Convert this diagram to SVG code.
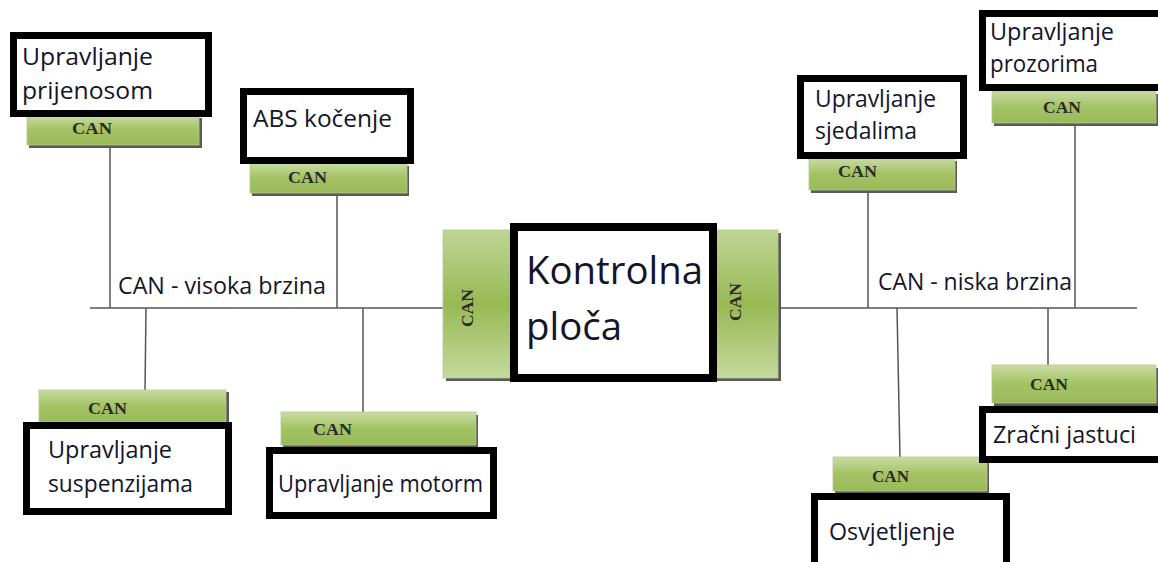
<svg xmlns="http://www.w3.org/2000/svg" width="1158" height="562" viewBox="0 0 1158 562">
<defs>
<linearGradient id="gh" x1="0" y1="0" x2="0" y2="1">
<stop offset="0" stop-color="#c9dca3"/>
<stop offset="0.5" stop-color="#a4c264"/>
<stop offset="1" stop-color="#9aba5a"/>
</linearGradient>
<linearGradient id="gv" x1="0" y1="0" x2="0" y2="1">
<stop offset="0" stop-color="#bfd595"/>
<stop offset="0.5" stop-color="#98b954"/>
<stop offset="1" stop-color="#c5d99d"/>
</linearGradient>
</defs>
<style>
.bar{fill:url(#gh);stroke:#b5cc8a;stroke-width:0.8}
.vbar{fill:url(#gv);stroke:#b5cc8a;stroke-width:0.8}
.sh{fill:#5a5a5a}
.box{fill:#fff;stroke:#000;stroke-width:7}
.t{font-family:"Open Sans","Noto Sans",sans-serif;font-size:24px;fill:#14142a}
.can{font-family:"Liberation Serif",serif;font-weight:bold;font-size:16px;fill:#2a2a2a}
.ln{stroke:#555;stroke-width:1.5;fill:none}
</style>
<rect width="1158" height="562" fill="#fff"/>
<g id="connectors">
<line class="ln" x1="90" y1="308" x2="444" y2="308"/>
<line class="ln" x1="777" y1="308" x2="1137" y2="308"/>
<line class="ln" x1="110" y1="146" x2="110" y2="308"/>
<line class="ln" x1="337" y1="194" x2="337" y2="308"/>
<line class="ln" x1="146" y1="308" x2="145" y2="391"/>
<line class="ln" x1="363" y1="308" x2="363" y2="413"/>
<line class="ln" x1="868" y1="192" x2="868" y2="308"/>
<line class="ln" x1="1075" y1="125" x2="1075" y2="308"/>
<line class="ln" x1="897" y1="308" x2="900" y2="458"/>
<line class="ln" x1="1048" y1="308" x2="1048" y2="366"/>
<text class="t" x="118" y="294" textLength="208" lengthAdjust="spacingAndGlyphs">CAN - visoka brzina</text>
<text class="t" x="878" y="290" textLength="194" lengthAdjust="spacingAndGlyphs">CAN - niska brzina</text>
</g>
<g id="kontrolna">
<rect class="sh" x="446" y="233" width="70" height="148"/>
<rect class="vbar" x="443" y="230" width="70" height="148"/>
<text class="can" transform="translate(473,308) rotate(-90)" text-anchor="middle" textLength="38" lengthAdjust="spacingAndGlyphs">CAN</text>
<rect class="sh" x="717" y="233" width="64" height="148"/>
<rect class="vbar" x="714" y="230" width="64" height="148"/>
<text class="can" transform="translate(741,302) rotate(-90)" text-anchor="middle" textLength="38" lengthAdjust="spacingAndGlyphs">CAN</text>
<rect x="514" y="227" width="199" height="151" fill="#fff" stroke="#000" stroke-width="8"/>
<text class="t" x="526" y="284" style="font-size:38px" textLength="177" lengthAdjust="spacingAndGlyphs">Kontrolna</text>
<text class="t" x="526" y="340" style="font-size:38px" textLength="96" lengthAdjust="spacingAndGlyphs">ploča</text>
</g>
<g id="prijenosom">
<rect class="sh" x="29" y="118" width="173" height="30"/>
<rect class="bar" x="27" y="115" width="172" height="30"/>
<text class="can" x="72" y="134" textLength="40" lengthAdjust="spacingAndGlyphs">CAN</text>
<rect class="box" x="13.5" y="35.5" width="195" height="78"/>
<text class="t" x="22" y="65" textLength="131" lengthAdjust="spacingAndGlyphs">Upravljanje</text>
<text class="t" x="22" y="99" textLength="131" lengthAdjust="spacingAndGlyphs">prijenosom</text>
</g>
<g id="abs">
<rect class="sh" x="252" y="166" width="157" height="30"/>
<rect class="bar" x="250" y="163" width="157" height="30"/>
<text class="can" x="288" y="183" textLength="39" lengthAdjust="spacingAndGlyphs">CAN</text>
<rect class="box" x="243.5" y="91.5" width="167" height="69"/>
<text class="t" x="253" y="127" textLength="139" lengthAdjust="spacingAndGlyphs">ABS kočenje</text>
</g>
<g id="suspenzijama">
<rect class="sh" x="41" y="392" width="188" height="32"/>
<rect class="bar" x="39" y="390" width="187" height="32"/>
<text class="can" x="88" y="414" textLength="39" lengthAdjust="spacingAndGlyphs">CAN</text>
<rect class="box" x="26.5" y="425.5" width="202" height="86"/>
<text class="t" x="48" y="458" textLength="124" lengthAdjust="spacingAndGlyphs">Upravljanje</text>
<text class="t" x="48" y="492" textLength="145" lengthAdjust="spacingAndGlyphs">suspenzijama</text>
</g>
<g id="motorm">
<rect class="sh" x="283" y="415" width="195" height="33"/>
<rect class="bar" x="281" y="412" width="195" height="33"/>
<text class="can" x="313" y="435" textLength="39" lengthAdjust="spacingAndGlyphs">CAN</text>
<rect class="box" x="269.5" y="450.5" width="224" height="65"/>
<text class="t" x="278" y="492" textLength="205" lengthAdjust="spacingAndGlyphs">Upravljanje motorm</text>
</g>
<g id="sjedalima">
<rect class="sh" x="811" y="161" width="146" height="32"/>
<rect class="bar" x="809" y="158" width="146" height="32"/>
<text class="can" x="838" y="177" textLength="39" lengthAdjust="spacingAndGlyphs">CAN</text>
<rect class="box" x="800.5" y="78.5" width="163" height="77"/>
<text class="t" x="815" y="107" textLength="121" lengthAdjust="spacingAndGlyphs">Upravljanje</text>
<text class="t" x="815" y="139" textLength="102" lengthAdjust="spacingAndGlyphs">sjedalima</text>
</g>
<g id="prozorima">
<rect class="sh" x="994" y="94" width="164" height="32"/>
<rect class="bar" x="992" y="91" width="164" height="32"/>
<text class="can" x="1043" y="113" textLength="38" lengthAdjust="spacingAndGlyphs">CAN</text>
<rect class="box" x="982.5" y="13.5" width="180" height="74"/>
<text class="t" x="990" y="40" textLength="124" lengthAdjust="spacingAndGlyphs">Upravljanje</text>
<text class="t" x="990" y="72" textLength="108" lengthAdjust="spacingAndGlyphs">prozorima</text>
</g>
<g id="osvjetljenje">
<rect class="sh" x="835" y="460" width="154" height="34"/>
<rect class="bar" x="833" y="457" width="154" height="34"/>
<text class="can" x="872" y="482" textLength="37" lengthAdjust="spacingAndGlyphs">CAN</text>
<rect class="box" x="814.5" y="496.5" width="192" height="70"/>
<text class="t" x="829" y="540" textLength="126" lengthAdjust="spacingAndGlyphs">Osvjetljenje</text>
</g>
<g id="zracni">
<rect class="sh" x="994" y="368" width="164" height="38"/>
<rect class="bar" x="992" y="365" width="164" height="38"/>
<text class="can" x="1030" y="390" textLength="38" lengthAdjust="spacingAndGlyphs">CAN</text>
<rect class="box" x="982.5" y="409.5" width="180" height="50"/>
<text class="t" x="993" y="443" textLength="143" lengthAdjust="spacingAndGlyphs">Zračni jastuci</text>
</g>
</svg>
